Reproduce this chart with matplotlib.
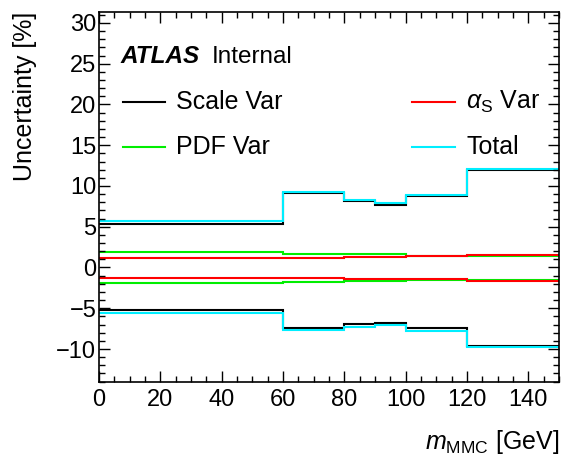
import matplotlib
matplotlib.use("Agg")
import matplotlib.pyplot as plt
from matplotlib.lines import Line2D
from matplotlib.ticker import MultipleLocator

plt.rcParams["font.family"] = ["Liberation Sans", "DejaVu Sans"]
plt.rcParams["mathtext.fontset"] = "custom"
plt.rcParams["mathtext.rm"] = "Liberation Sans"
plt.rcParams["mathtext.it"] = "Liberation Sans:italic"

# m_MMC bin edges [GeV]
bin_edges = [0, 60, 80, 90, 100, 120, 150]

# relative uncertainties [%], up / down per bin
scale_up = [5.32, 9.10, 8.12, 7.64, 8.74, 11.95]
scale_down = [-5.17, -7.40, -6.91, -6.75, -7.48, -9.60]
pdf_up = [1.87, 1.62, 1.62, 1.62, 1.46, 1.42]
pdf_down = [-1.96, -1.75, -1.71, -1.71, -1.59, -1.55]
alphas_up = [1.18, 1.18, 1.30, 1.30, 1.38, 1.54]
alphas_down = [-1.26, -1.26, -1.38, -1.38, -1.46, -1.63]
total_up = [5.73, 9.30, 8.29, 7.93, 8.94, 12.07]
total_down = [-5.61, -7.65, -7.24, -7.04, -7.85, -9.80]

labels = ["Scale Var", "PDF Var", r"$\alpha_{\mathrm{S}}$ Var", "Total"]
colors = ["black", "#00ee00", "red", "#00eeff"]
ups = [scale_up, pdf_up, alphas_up, total_up]
downs = [scale_down, pdf_down, alphas_down, total_down]

fig = plt.figure(figsize=(5.63, 4.62), dpi=100)
ax = fig.add_axes([0.176, 0.174, 0.817, 0.801])

for up, down, color in zip(ups, downs, colors):
    ax.stairs(up, bin_edges, color=color, linewidth=1.5, baseline=None)
    ax.stairs(down, bin_edges, color=color, linewidth=1.5, baseline=None)

ax.set_xlim(0, 150)
ax.set_ylim(-14, 31.4)
ax.xaxis.set_major_locator(MultipleLocator(20))
ax.xaxis.set_minor_locator(MultipleLocator(5))
ax.yaxis.set_major_locator(MultipleLocator(5))
ax.yaxis.set_minor_locator(MultipleLocator(1))
ax.tick_params(which="both", direction="in", top=True, right=True, labelsize=17, width=1.0)
ax.tick_params(which="major", length=8)
ax.tick_params(which="minor", length=4)
ax.tick_params(axis="x", pad=5)
ax.tick_params(axis="y", pad=2)
for sp in ax.spines.values():
    sp.set_linewidth(1.2)

ax.set_xlabel(r"$m_{\mathrm{MMC}}$ [GeV]", fontsize=18, loc="right")
ax.xaxis.set_label_coords(1.0, -0.125)
ax.set_ylabel("Uncertainty [%]", fontsize=18, loc="top")
ax.yaxis.set_label_coords(-0.135, 1.0)

ax.text(0.046, 0.878, "ATLAS", transform=ax.transAxes, fontsize=17.5,
        fontweight="bold", fontstyle="italic", va="center")
ax.text(0.245, 0.878, "Internal", transform=ax.transAxes, fontsize=17.5, va="center")

# legend, two columns
leg_x = [0.051, 0.051, 0.681, 0.681]
leg_y = [0.755, 0.635, 0.755, 0.635]
for lx, ly, label, color in zip(leg_x, leg_y, labels, colors):
    ax.add_line(Line2D([lx, lx + 0.093], [ly, ly], color=color, linewidth=1.5,
                       transform=ax.transAxes))
    ax.text(lx + 0.117, ly, label, transform=ax.transAxes, fontsize=18, va="center")

fig.savefig("out.png", dpi=100)
